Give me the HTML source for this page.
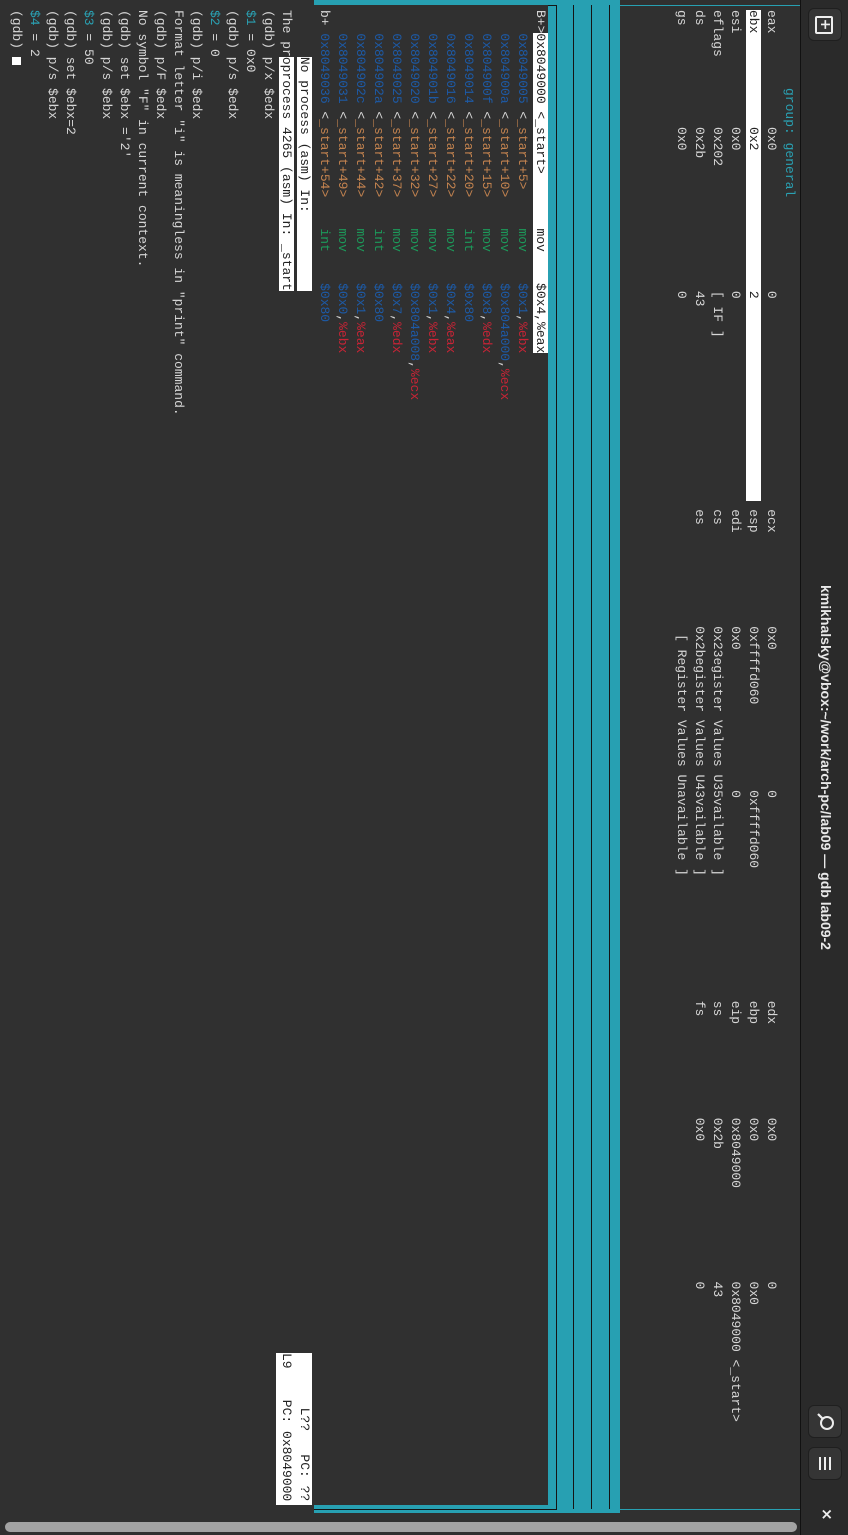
<!DOCTYPE html>
<html><head><meta charset="utf-8"><style>
html,body{margin:0;padding:0;width:848px;height:1535px;overflow:hidden;background:#303030}
#rot{position:absolute;left:0;top:0;width:1535px;height:848px;transform-origin:0 0;transform:translate(848px,0) rotate(90deg);background:#303030;overflow:hidden}
.hdr{position:absolute;left:0;top:0;width:1535px;height:47px;background:#2a2a2a;border-bottom:1px solid #111}
.title{position:absolute;left:0;width:1535px;top:14px;text-align:center;font:bold 14px "Liberation Sans",sans-serif;color:#e8e8e8;padding-left:0}
.btn{position:absolute;top:6px;width:33px;height:34px;background:#353535;border:1px solid #1f1f1f;border-radius:6px;box-sizing:border-box;color:#eee;text-align:center;font:16px "DejaVu Sans",sans-serif;line-height:32px}
.ln{position:absolute;left:10px;height:18px;line-height:18px;white-space:pre;font:13px "Liberation Mono",monospace;color:#d6d6d6}
.ln span{white-space:pre}
.c{display:inline-block;overflow:visible}
.w15{width:15ch}.w21{width:21ch}.w28{width:28ch}.w27{width:27ch}
.hl{background:#fff;color:#222}
.teal{color:#2aa1b3}
.ad{color:#1d5aa6}.lb{color:#c3834f}.op{color:#1c9a5a}.im{color:#1d5aa6}.rg{color:#c92436}.wh{color:#d6d6d6}
.band{position:absolute;background:#27a0b2}
.blk{position:absolute;background:#151515}
</style></head><body>
<div id="rot">
<div class="hdr">
 <div class="title">kmikhalsky@vbox:~/work/arch-pc/lab09 — gdb lab09-2</div>
 <div class="btn" style="left:8px"><span style="display:inline-block;width:14px;height:14px;border:2px solid #eee;border-radius:2px;line-height:13px;font-weight:bold;font-size:14px;margin-top:8px;vertical-align:top">+</span></div>
 <div class="btn" style="left:1405px"><svg width="31" height="32" viewBox="0 0 31 32"><circle cx="17" cy="14" r="6" fill="none" stroke="#eee" stroke-width="2"/><line x1="12.5" y1="18.5" x2="8" y2="23" stroke="#eee" stroke-width="2.2"/></svg></div>
 <div class="btn" style="left:1447px"><svg width="31" height="32" viewBox="0 0 31 32"><line x1="9" y1="11" x2="22" y2="11" stroke="#eee" stroke-width="2"/><line x1="9" y1="16" x2="22" y2="16" stroke="#eee" stroke-width="2"/><line x1="9" y1="21" x2="22" y2="21" stroke="#eee" stroke-width="2"/></svg></div>
 <div style="position:absolute;left:1508px;top:12px;color:#eee;font:bold 15px 'DejaVu Sans',sans-serif">×</div>
</div>

<!-- borders -->
<div class="band" style="left:0;top:228px;width:1513px;height:72px"></div>
<div class="band" style="left:0;top:228px;width:5px;height:306px"></div>
<div class="band" style="left:1505px;top:228px;width:8px;height:306px"></div>
<div class="band" style="left:5px;top:48px;width:1px;height:180px"></div>
<div class="band" style="left:1509px;top:48px;width:1px;height:180px"></div>
<div class="blk" style="left:5px;top:238px;width:1504px;height:1px"></div>
<div class="blk" style="left:5px;top:256px;width:1504px;height:1px"></div>
<div class="blk" style="left:5px;top:274px;width:1504px;height:1px"></div>
<div class="blk" style="left:5px;top:291px;width:1504px;height:1px"></div>
<div class="blk" style="left:5px;top:291px;width:1px;height:243px"></div>
<div class="blk" style="left:1509px;top:291px;width:1px;height:243px"></div>
<div style="position:absolute;left:5px;top:300px;width:1500px;height:234px;background:#303030"></div>

<!-- registers -->
<div class="ln teal" style="top:51px;left:88px">group: general</div>
<div class="ln" style="top:69px"><span class="c w15">eax</span><span class="c w21">0x0</span><span class="c w28">0</span><span class="c w15">ecx</span><span class="c w21">0x0</span><span class="c w27">0</span><span class="c w15">edx</span><span class="c w21">0x0</span>0</div>
<div class="ln" style="top:87px"><span class="hl"><span class="c w15">ebx</span><span class="c w21">0x2</span><span class="c w27">2</span></span><span class="c" style="width:1ch"></span><span class="c w15">esp</span><span class="c w21">0xffffd060</span><span class="c w27">0xffffd060</span><span class="c w15">ebp</span><span class="c w21">0x0</span>0x0</div>
<div class="ln" style="top:105px"><span class="c w15">esi</span><span class="c w21">0x0</span><span class="c w28">0</span><span class="c w15">edi</span><span class="c w21">0x0</span><span class="c w27">0</span><span class="c w15">eip</span><span class="c w21">0x8049000</span>0x8049000 &lt;_start&gt;</div>
<div class="ln" style="top:123px"><span class="c w15">eflags</span><span class="c w21">0x202</span><span class="c w28">[ IF ]</span><span class="c w15">cs</span><span class="c" style="width:48ch">0x23egister Values U35vailable ]</span><span class="c w15">ss</span><span class="c w21">0x2b</span>43</div>
<div class="ln" style="top:141px"><span class="c w15">ds</span><span class="c w21">0x2b</span><span class="c w28">43</span><span class="c w15">es</span><span class="c" style="width:48ch">0x2begister Values U43vailable ]</span><span class="c w15">fs</span><span class="c w21">0x0</span>0</div>
<div class="ln" style="top:159px"><span class="c w15">gs</span><span class="c w21">0x0</span><span class="c w28">0</span><span class="c" style="width:16ch"></span>[ Register Values Unavailable ]</div>

<!-- source -->
<div class="ln" style="top:300px">B+&gt;<span class="hl">0x8049000 &lt;_start&gt;       mov    $0x4,%eax</span></div>
<div class="ln" style="top:318px">   <span class="ad">0x8049005</span> &lt;<span class="lb">_start+5&gt;</span>     <span class="op">mov</span>    <span class="im">$0x1</span>,<span class="rg">%ebx</span></div>
<div class="ln" style="top:336px">   <span class="ad">0x804900a</span> &lt;<span class="lb">_start+10&gt;</span>    <span class="op">mov</span>    <span class="im">$0x804a000</span>,<span class="rg">%ecx</span></div>
<div class="ln" style="top:354px">   <span class="ad">0x804900f</span> &lt;<span class="lb">_start+15&gt;</span>    <span class="op">mov</span>    <span class="im">$0x8</span>,<span class="rg">%edx</span></div>
<div class="ln" style="top:372px">   <span class="ad">0x8049014</span> &lt;<span class="lb">_start+20&gt;</span>    <span class="op">int</span>    <span class="im">$0x80</span></div>
<div class="ln" style="top:390px">   <span class="ad">0x8049016</span> &lt;<span class="lb">_start+22&gt;</span>    <span class="op">mov</span>    <span class="im">$0x4</span>,<span class="rg">%eax</span></div>
<div class="ln" style="top:408px">   <span class="ad">0x804901b</span> &lt;<span class="lb">_start+27&gt;</span>    <span class="op">mov</span>    <span class="im">$0x1</span>,<span class="rg">%ebx</span></div>
<div class="ln" style="top:426px">   <span class="ad">0x8049020</span> &lt;<span class="lb">_start+32&gt;</span>    <span class="op">mov</span>    <span class="im">$0x804a008</span>,<span class="rg">%ecx</span></div>
<div class="ln" style="top:444px">   <span class="ad">0x8049025</span> &lt;<span class="lb">_start+37&gt;</span>    <span class="op">mov</span>    <span class="im">$0x7</span>,<span class="rg">%edx</span></div>
<div class="ln" style="top:462px">   <span class="ad">0x804902a</span> &lt;<span class="lb">_start+42&gt;</span>    <span class="op">int</span>    <span class="im">$0x80</span></div>
<div class="ln" style="top:480px">   <span class="ad">0x804902c</span> &lt;<span class="lb">_start+44&gt;</span>    <span class="op">mov</span>    <span class="im">$0x1</span>,<span class="rg">%eax</span></div>
<div class="ln" style="top:498px">   <span class="ad">0x8049031</span> &lt;<span class="lb">_start+49&gt;</span>    <span class="op">mov</span>    <span class="im">$0x0</span>,<span class="rg">%ebx</span></div>
<div class="ln" style="top:516px">b+ <span class="ad">0x8049036</span> &lt;<span class="lb">_start+54&gt;</span>    <span class="op">int</span>    <span class="im">$0x80</span></div>

<!-- status -->
<div class="ln" style="top:536px">      <span class="hl">No process (asm) In:          </span></div>
<div class="ln" style="top:554px">The pr<span class="hl">oprocess 4265 (asm) In: _start</span></div>
<div class="ln hl" style="top:536px;left:1353px;width:152px">       L??   PC: ??</div>
<div class="ln hl" style="top:554px;left:1353px;width:152px">L9    PC: 0x8049000</div>

<!-- commands -->
<div class="ln" style="top:572px">(gdb) p/x $edx</div>
<div class="ln" style="top:590px"><span class="teal">$1</span> = 0x0</div>
<div class="ln" style="top:608px">(gdb) p/s $edx</div>
<div class="ln" style="top:626px"><span class="teal">$2</span> = 0</div>
<div class="ln" style="top:644px">(gdb) p/i $edx</div>
<div class="ln" style="top:662px">Format letter "i" is meaningless in "print" command.</div>
<div class="ln" style="top:680px">(gdb) p/F $edx</div>
<div class="ln" style="top:698px">No symbol "F" in current context.</div>
<div class="ln" style="top:716px">(gdb) set $ebx ='2'</div>
<div class="ln" style="top:734px">(gdb) p/s $ebx</div>
<div class="ln" style="top:752px"><span class="teal">$3</span> = 50</div>
<div class="ln" style="top:770px">(gdb) set $ebx=2</div>
<div class="ln" style="top:788px">(gdb) p/s $ebx</div>
<div class="ln" style="top:806px"><span class="teal">$4</span> = 2</div>
<div class="ln" style="top:824px">(gdb) <span style="display:inline-block;width:8px;height:9px;background:#fff;vertical-align:middle"></span></div>

<div style="position:absolute;left:1522px;top:51px;width:10px;height:792px;background:#a3a3a3;border-radius:5px"></div>
</div>
</body></html>
